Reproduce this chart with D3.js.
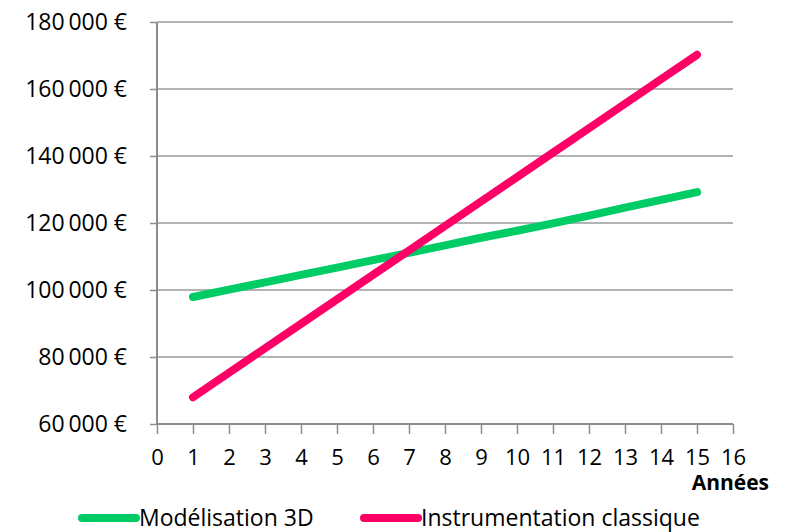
<!DOCTYPE html>
<html>
<head>
<meta charset="utf-8">
<script src="https://d3js.org/d3.v7.min.js"></script>
<style>
  body { margin: 0; background: #fff; }
  text { font-family: "Open Sans", "Liberation Sans", sans-serif; fill: #000; }
</style>
</head>
<body>
<div id="chart"></div>
<script>
  // data
  var years = [1, 2, 3, 4, 5, 6, 7, 8, 9, 10, 11, 12, 13, 14, 15];
  var modelisation = [97900, 100100, 102300, 104500, 106700, 108900, 111100, 113300, 115600, 117700, 119900, 122200, 124600, 126900, 129200];
  var instrumentation = [68000, 75300, 82600, 89900, 97200, 104500, 111800, 119100, 126400, 133700, 141000, 148300, 155600, 162900, 170200];
  var seriesNames = ["Modélisation 3D", "Instrumentation classique"];
  var seriesColors = ["#00cc66", "#ff0066"];
  var yTicks = [60000, 80000, 100000, 120000, 140000, 160000, 180000];
  var xTicks = d3.range(0, 17);

  var width = 789;
  var height = 532;
  var plotLeft = 157, plotRight = 733, plotTop = 22, plotBottom = 424;

  var svg = d3.select("#chart")
    .append("svg")
    .attr("width", width)
    .attr("height", height);

  var x = d3.scaleLinear().domain([0, 16]).range([plotLeft, plotRight]);
  var y = d3.scaleLinear().domain([60000, 180000]).range([plotBottom, plotTop]);

  var fmt = function(d) {
    return d3.format(",")(d).replace(/,/g, "\u2009") + " €";
  };

  // gridlines
  svg.append("g")
    .selectAll("line")
    .data(yTicks.slice(1))
    .join("line")
    .attr("x1", plotLeft)
    .attr("x2", plotRight)
    .attr("y1", d => y(d))
    .attr("y2", d => y(d))
    .style("stroke", "#9a9a9a")
    .style("stroke-width", 1.5);

  // y axis
  var yAxis = svg.append("g")
    .attr("transform", "translate(" + plotLeft + ",0)")
    .call(d3.axisLeft(y).tickValues(yTicks).tickFormat(fmt).tickSize(7).tickPadding(23));
  yAxis.select(".domain").style("stroke", "#8c8c8c").style("stroke-width", 2).attr("d", "M0," + plotTop + "V" + plotBottom);
  yAxis.selectAll(".tick line").style("stroke", "#8c8c8c").style("stroke-width", 1.5);
  yAxis.selectAll("text").style("font-size", "23px");

  // x axis
  var xAxis = svg.append("g")
    .attr("transform", "translate(0," + plotBottom + ")")
    .call(d3.axisBottom(x).tickValues(xTicks).tickFormat(d3.format("d")).tickSize(10).tickPadding(15));
  xAxis.select(".domain").style("stroke", "#8c8c8c").style("stroke-width", 2).attr("d", "M" + plotLeft + ",0H" + plotRight);
  xAxis.selectAll(".tick line").style("stroke", "#8c8c8c").style("stroke-width", 1.5);
  xAxis.selectAll("text").style("font-size", "22px");

  svg.append("text")
    .attr("x", 769)
    .attr("y", 490)
    .attr("text-anchor", "end")
    .style("font-size", "21px")
    .style("font-weight", "bold")
    .text("Années");

  // lines
  var line = d3.line()
    .x((d, i) => x(years[i]))
    .y(d => y(d));

  [modelisation, instrumentation].forEach(function(values, k) {
    svg.append("path")
      .attr("d", line(values))
      .style("fill", "none")
      .style("stroke", seriesColors[k])
      .style("stroke-width", 8)
      .style("stroke-linecap", "round")
      .style("stroke-linejoin", "round");
  });

  // legend
  var legendX = [82, 364];
  var legend = svg.append("g");
  seriesNames.forEach(function(name, k) {
    legend.append("line")
      .attr("x1", legendX[k])
      .attr("x2", legendX[k] + 54)
      .attr("y1", 518)
      .attr("y2", 518)
      .style("stroke", seriesColors[k])
      .style("stroke-width", 8)
      .style("stroke-linecap", "round");
    legend.append("text")
      .attr("x", legendX[k] + 57)
      .attr("y", 526)
      .style("font-size", "23px")
      .text(name);
  });
</script>
</body>
</html>
